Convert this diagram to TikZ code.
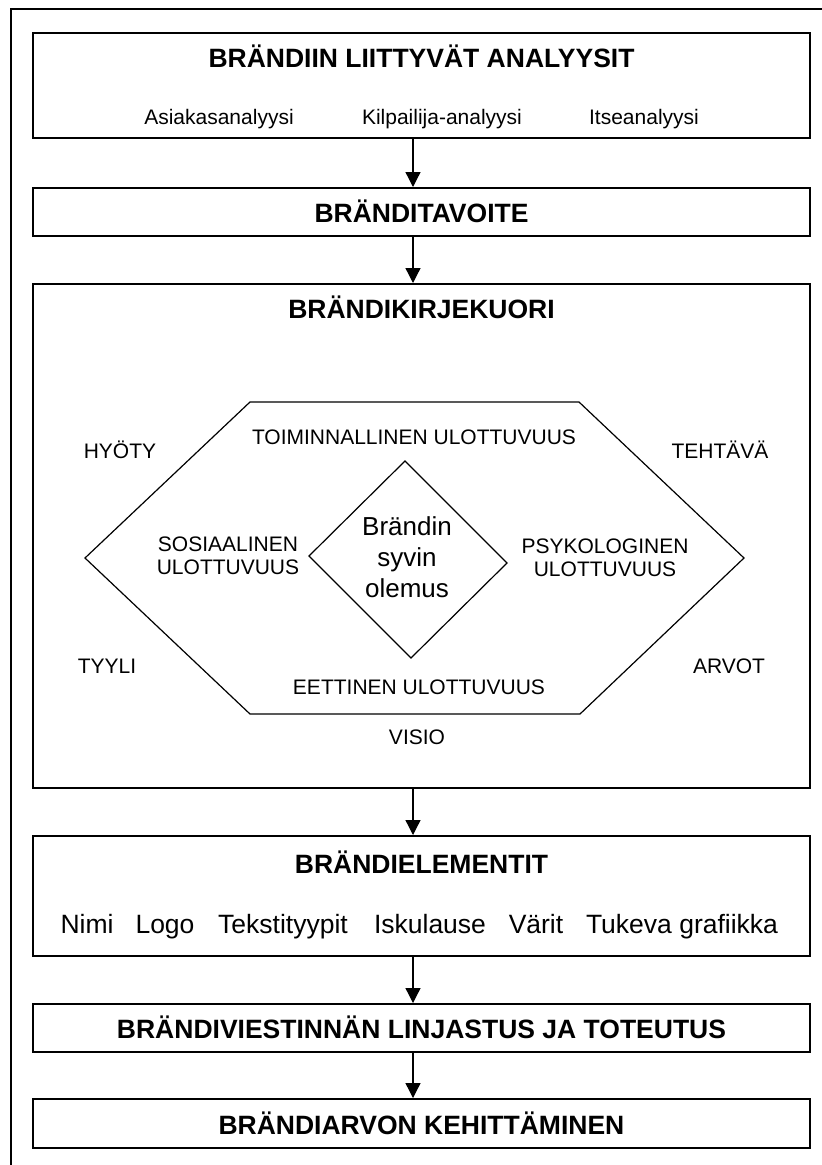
\documentclass[tikz,border=0pt]{standalone}
\usepackage{fontspec}
\setmainfont{Liberation Sans}
\usetikzlibrary{arrows.meta}
\begin{document}
\begin{tikzpicture}[x=1pt,y=-1pt,
  box/.style={draw,line width=2pt,minimum width=777pt,inner sep=0pt,anchor=center},
  ttl/.style={font=\fontsize{26.5}{30}\selectfont\bfseries,inner sep=0pt,anchor=base},
  sub/.style={font=\fontsize{21}{24}\selectfont,inner sep=0pt,anchor=base},
  dim/.style={font=\fontsize{21}{23.5}\selectfont,inner sep=0pt,align=center},
  elem/.style={font=\fontsize{26.5}{30}\selectfont,inner sep=0pt,anchor=base},
  arr/.style={line width=1.3pt,-{Triangle[length=15pt,width=15pt]}},
  outline/.style={line width=1.2pt,line join=miter}]
\useasboundingbox (0,0) rectangle (822,1165);
\fill[white] (0,0) rectangle (822,1165);
% outer frame (only top and left visible)
\draw[line width=2pt] (11,1165) -- (11,9) -- (822,9);
% boxes
\node[box,minimum height=105pt] (b1) at (421.5,85.5) {};
\node[box,minimum height=48pt] (b2) at (421.5,212) {};
\node[box,minimum height=504pt] (b3) at (421.5,536) {};
\node[box,minimum height=120pt] (b4) at (421.5,896) {};
\node[box,minimum height=48pt] (b5) at (421.5,1028) {};
\node[box,minimum height=49pt] (b6) at (421.5,1123.5) {};
% texts
\node[ttl] (t1) at (421.5,67.5) {BRÄNDIIN LIITTYVÄT ANALYYSIT};
\node[sub] (s1) at (219,124) {Asiakasanalyysi};
\node[sub] (s2) at (442,124) {Kilpailija-analyysi};
\node[sub] (s3) at (644,124) {Itseanalyysi};
\node[ttl] (t2) at (421.5,222.5) {BRÄNDITAVOITE};
\node[ttl] (t3) at (421.5,318.5) {BRÄNDIKIRJEKUORI};
\node[ttl] (t4) at (421.5,873.5) {BRÄNDIELEMENTIT};
\node[elem] (e1) at (87,933) {Nimi};
\node[elem] (e2) at (165,933) {Logo};
\node[elem] (e3) at (283,933) {Tekstityypit};
\node[elem] (e4) at (430,933) {Iskulause};
\node[elem] (e5) at (536,933) {Värit};
\node[elem] (e6) at (682,933) {Tukeva grafiikka};
\node[ttl] (t5) at (421.5,1038.5) {BRÄNDIVIESTINNÄN LINJASTUS JA TOTEUTUS};
\node[ttl] (t6) at (421.5,1134.5) {BRÄNDIARVON KEHITTÄMINEN};
% arrows
\coordinate (ax) at (413,0);
\draw[arr] (b1.south -| ax) -- (b2.north -| ax);
\draw[arr] (b2.south -| ax) -- (b3.north -| ax);
\draw[arr] (b3.south -| ax) -- (b4.north -| ax);
\draw[arr] (b4.south -| ax) -- (b5.north -| ax);
\draw[arr] (b5.south -| ax) -- (b6.north -| ax);
% hexagon
\coordinate (h1) at (250,402);
\coordinate (h2) at (579,402);
\coordinate (h3) at (744,558);
\coordinate (h4) at (580,714);
\coordinate (h5) at (250,714);
\coordinate (h6) at (85,558);
\draw[outline] (h1) -- (h2) -- (h3) -- (h4) -- (h5) -- (h6) -- cycle;
% diamond
\coordinate (d1) at (405,461);
\coordinate (d2) at (507,563);
\coordinate (d3) at (411,658);
\coordinate (d4) at (309,556);
\draw[outline] (d1) -- (d2) -- (d3) -- (d4) -- cycle;
\node[font=\fontsize{26}{31}\selectfont,align=center,inner sep=0pt] (core) at (407,557) {Brändin\\syvin\\olemus};
\node[dim] (toim) at (414,437) {TOIMINNALLINEN ULOTTUVUUS};
\node[dim] (sos) at (228,556) {SOSIAALINEN\\ULOTTUVUUS};
\node[dim] (psy) at (605,558) {PSYKOLOGINEN\\ULOTTUVUUS};
\node[dim] (eet) at (419,687) {EETTINEN ULOTTUVUUS};
\node[dim] (hyo) at (120,450) {HYÖTY};
\node[dim] (teh) at (720,450) {TEHTÄVÄ};
\node[dim] (tyy) at (107,666) {TYYLI};
\node[dim] (arv) at (729,666) {ARVOT};
\node[dim] (vis) at (417,737) {VISIO};
\end{tikzpicture}
\end{document}
